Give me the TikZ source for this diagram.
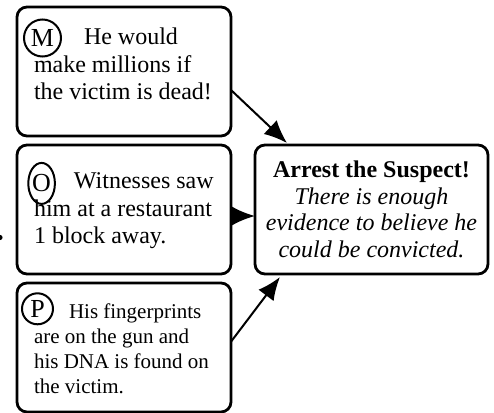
\documentclass[tikz,border=0pt]{standalone}
\usepackage{fontspec}
\setmainfont{Liberation Serif}
\usetikzlibrary{arrows.meta,positioning,shapes.geometric}

\begin{document}
\begin{tikzpicture}[x=1pt, y=1pt, node distance=4.5pt, line width=1pt,
        -{Latex[length=11.5pt,width=9.5pt]},
        every node/.append style={font=\fontsize{12}{13.75}\selectfont}]
      \tikzstyle{reason} = [draw, rounded corners=5pt, line width=1.4pt, outer sep=0pt,
        minimum width=107pt, minimum height=64.5pt, inner sep=0pt]
      \tikzstyle{words} = [inner sep=0pt, align=left, anchor=base west]
      \tikzstyle{tag} = [draw, circle, inner sep=0pt, line width=1pt,
        font=\fontsize{13}{14}\selectfont]
      \useasboundingbox (0,0) rectangle (247,-206.5);
      % the three reasons
      \node (boxM) [reason] at (62,-35.75) {};
      \node (boxO) [reason, below=of boxM] {};
      \node (boxP) [reason, below=of boxO] {};
      % the claim
      \node (boxC) [reason, right=12pt of boxO, minimum width=116.5pt, align=center,
        font=\fontsize{12}{13.33}\selectfont]
        {\textbf{Arrest the Suspect!}\\ \textit{There is enough}\\
         \textit{evidence to believe he}\\ \textit{could be convicted.}};
      % texts (placed by their last line) and their letters
      \node (textM) [words] at ([shift={(8pt,-46.25pt)}]boxM.north west)
        {\hspace*{25pt}He would\\ make millions if\\ the victim is dead!};
      \node (tagM) [tag, minimum size=18.5pt] at ([shift={(12.75pt,-15.5pt)}]boxM.north west) {M};
      \node (textO) [words] at ([shift={(8pt,-49.25pt)}]boxO.north west)
        {\hspace*{20pt}Witnesses saw\\ him at a restaurant\\ 1 block away.};
      \node (tagO) [tag, ellipse, minimum width=13.3pt, minimum height=20.5pt]
        at ([shift={(12.3pt,-19.2pt)}]boxO.north west) {O};
      \node (textP) [words, font=\fontsize{10.5}{12.5}\selectfont]
        at ([shift={(8pt,-55pt)}]boxP.north west)
        {\hspace*{17.5pt}His fingerprints\\ are on the gun and\\ his DNA is found on\\ the victim.};
      \node (tagP) [tag, minimum size=15.5pt] at ([shift={(10.25pt,-12.9pt)}]boxP.north west) {P};
      % arrows to the claim
      \draw ([yshift=-9.25pt]boxM.east) -- ([xshift=16pt,yshift=1pt]boxC.north west);
      \draw ([yshift=-3.25pt]boxO.east) -- ([yshift=-3.25pt]boxC.west);
      \draw ([yshift=2.9pt]boxP.east) -- ([xshift=12.5pt,yshift=-1.5pt]boxC.south west);
      \fill[-] (0,-118.75) circle (1.3pt);
    \end{tikzpicture}
\end{document}
